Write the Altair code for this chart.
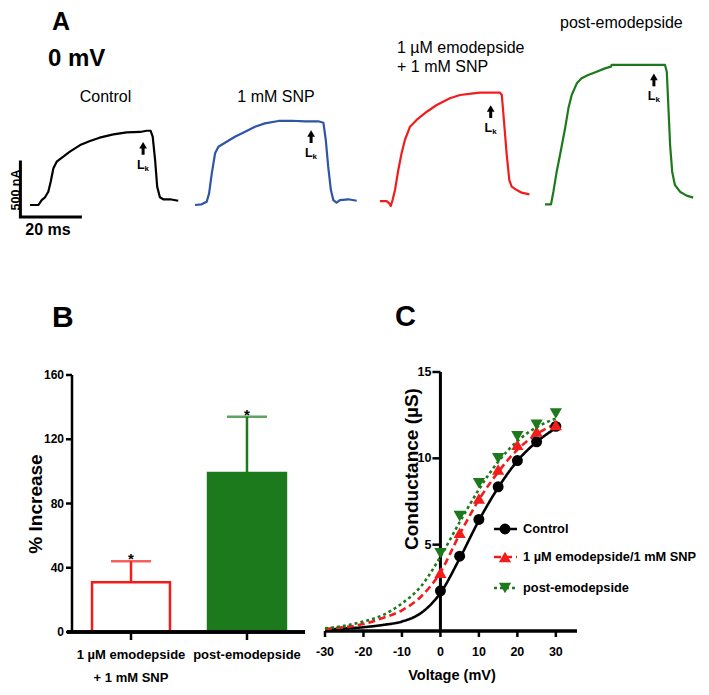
import altair as alt
import pandas as pd

W, H = 693, 678
SANS = "Liberation Sans, Arial, Helvetica, sans-serif"
BLACK = "#000000"
BLUE = "#2f55a6"
RED = "#f21c1c"
GREEN = "#1c7a1c"

# ---------------- Panel A: current traces at 0 mV (time ms, current nA) ----------------
ctrl_t = [0, 2.8, 3.9, 5, 6.1, 6.9, 7.8, 8.9, 11.1, 13.3, 16.7, 20, 23.2, 27.8, 32.2, 36.7,
          38.9, 40.2, 40.9, 41.7, 42.4, 43.3, 44.4, 46.7, 49.4]
ctrl_i = [0, 0, 45, 70, 121, 212, 334, 394, 439, 485, 545, 582, 612, 642, 661, 664,
          675, 675, 621, 409, 166, 70, 52, 52, 39]
snp_t = [0, 2.2, 3.9, 4.7, 5.6, 6.7, 7.8, 10, 13.3, 16.7, 20, 23.3, 27.8, 32.2, 36.7, 41.1,
         42.8, 43.6, 44.4, 45.3, 46.1, 47.2, 48.3, 51.1, 53.9]
snp_i = [0, 6, 30, 106, 288, 470, 530, 566, 621, 666, 712, 742, 764, 766, 761, 761,
         748, 591, 348, 136, 45, 21, 45, 52, 39]
emo_t = [0, 2.2, 3.1, 3.6, 4.2, 5, 6.1, 7.2, 8.3, 10, 12.2, 15.6, 18.9, 23.3, 26.7, 31.1,
         33.3, 40, 40.6, 41.3, 42.2, 43.1, 43.9, 45.6, 47.2, 49.8]
emo_i = [36, 36, 15, -9, 45, 136, 318, 470, 591, 712, 773, 848, 909, 970, 1000, 1015,
         1021, 1021, 1000, 773, 470, 227, 167, 136, 112, 97]
post_t = [0, 2, 2.8, 3.9, 5, 6.7, 7.8, 8.9, 10.6, 12.2, 14.4, 17.2, 20, 22, 22.2, 40,
          40.6, 41.1, 41.7, 42.4, 43.3, 45, 47.2, 49.4]
post_i = [6, 6, 121, 303, 455, 697, 879, 1000, 1106, 1152, 1182, 1212, 1242, 1258, 1273, 1273,
          1212, 909, 545, 303, 182, 121, 85, 67]
lk_t = [37.7, 38.7, 36.9, 36.3]          # time of the Lk arrow in each trace
lk_i = [575, 682, 909, 1197]             # current level of the arrow tip
bar_len_ms = 20
bar_len_na = 500
trace_titles = ["Control", "1 mM SNP", "1 µM emodepside", "+ 1 mM SNP", "post-emodepside"]

# ---------------- Panel B: % increase ----------------
b_groups = ["1 µM emodepside\n+ 1 mM SNP", "post-emodepside"]
b_mean = [31, 99]
b_sem = [13, 35]
b_ticks = [0, 40, 80, 120, 160]

# ---------------- Panel C: conductance vs voltage ----------------
c_v_curve = [-30, -25, -20, -15, -10, -5, 0, 5, 10, 15, 20, 25, 30]
c_fit_ctrl = [0.08, 0.14, 0.22, 0.35, 0.55, 1.05, 2.2, 4.2, 6.4, 8.3, 9.85, 10.95, 11.75]
c_fit_emo = [0.12, 0.22, 0.40, 0.75, 1.2, 2.0, 3.4, 5.6, 7.6, 9.2, 10.5, 11.4, 12.0]
c_fit_post = [0.15, 0.30, 0.55, 0.92, 1.6, 2.6, 4.3, 6.3, 8.2, 9.8, 11.0, 11.8, 12.3]
c_v_pts = [0, 5, 10, 15, 20, 25, 30]
c_pts_ctrl = [2.33, 4.33, 6.46, 8.35, 9.87, 10.96, 11.85]
c_pts_emo = [3.38, 5.69, 7.67, 9.35, 10.79, 11.56, 11.94]
c_pts_post = [4.5, 6.65, 8.56, 10.0, 11.27, 11.94, 12.6]
c_names = ["Control", "1 µM emodepside/1 mM SNP", "post-emodepside"]
c_x_ticks = [-30, -20, -10, 0, 10, 20, 30]
c_y_ticks = [5, 10, 15]

ONE = pd.DataFrame({"o": [0]})


def txt(s, x, y, size, weight="normal", align="left", baseline="alphabetic", angle=0):
    return alt.Chart(ONE).mark_text(fontSize=size, fontWeight=weight, font=SANS, align=align,
                                    baseline=baseline, angle=angle, color=BLACK).encode(
        x=alt.value(x), y=alt.value(y), text=alt.value(s))


def trace_layer(t, cur, color, xr, lkt, lki, scalebar=False):
    xs = alt.Scale(domain=[0, 50], range=xr, nice=False, zero=False)
    ys = alt.Scale(domain=[0, 1000], range=[197, 87], nice=False, zero=False)
    X = alt.X("t:Q", scale=xs, axis=None)
    Y = alt.Y("i:Q", scale=ys, axis=None)
    df = pd.DataFrame({"t": t, "i": cur, "k": list(range(len(t)))})
    parts = [alt.Chart(df).mark_line(color=color, strokeWidth=2.2, strokeJoin="round").encode(
        x=X, y=Y, order="k:Q")]
    lk = pd.DataFrame({"t": [lkt], "i": [lki]})
    base = alt.Chart(lk).encode(x=X, y=Y)
    parts += [
        base.mark_rule(color=BLACK, strokeWidth=3, yOffset=5, y2Offset=13).encode(y2=alt.Y2("i")),
        base.mark_point(shape="triangle-up", filled=True, color=BLACK, size=60, opacity=1, yOffset=3.5),
        base.mark_text(text="L", font=SANS, fontWeight="bold", fontSize=12.5, align="right",
                       baseline="alphabetic", dx=1.5, dy=27, color=BLACK),
        base.mark_text(text="k", font=SANS, fontWeight="bold", fontSize=8, align="left",
                       baseline="alphabetic", dx=1.5, dy=29, color=BLACK),
    ]
    if scalebar:
        t0, i0 = -3.2, -110
        sb = pd.DataFrame({"t": [t0, t0, t0 + bar_len_ms], "i": [i0 + bar_len_na, i0, i0], "k": [0, 1, 2]})
        parts.append(alt.Chart(sb).mark_line(color=BLACK, strokeWidth=3, strokeJoin="miter",
                                             strokeCap="square").encode(x=X, y=Y, order="k:Q"))
    return alt.layer(*parts)


panelA = [
    trace_layer(ctrl_t, ctrl_i, BLACK, [22, 172], lk_t[0], lk_i[0], scalebar=True),
    trace_layer(snp_t, snp_i, BLUE, [187, 337], lk_t[1], lk_i[1]),
    trace_layer(emo_t, emo_i, RED, [372, 522], lk_t[2], lk_i[2]),
    trace_layer(post_t, post_i, GREEN, [537, 687], lk_t[3], lk_i[3]),
]

# ---------------- Panel B ----------------
bdf = pd.DataFrame({
    "g": b_groups, "m": b_mean, "hi": [m + s for m, s in zip(b_mean, b_sem)], "z": 0,
    "l1": [g.split("\n")[0] for g in b_groups],
    "l2": [g.split("\n")[1] if "\n" in g else "" for g in b_groups],
})
xsB = alt.Scale(domain=b_groups, range=[59, 297], paddingInner=0.328, paddingOuter=0.19, align=0.568)
ysB = alt.Scale(domain=[0, 160], range=[624, 367], nice=False, zero=True)
XB = alt.X("g:N", scale=xsB, axis=None, sort=b_groups)


def YB(f):
    return alt.Y(f, scale=ysB, axis=None)


strokeB = alt.Scale(domain=b_groups, range=[RED, GREEN])
fillB = alt.Scale(domain=b_groups, range=["#ffffff", GREEN])
baseB = alt.Chart(bdf)
b_tick_df = pd.DataFrame({"v": b_ticks, "lab": [str(v) for v in b_ticks]})
b_dom_df = pd.DataFrame({"a": [b_ticks[0]], "b": [b_ticks[-1]]})
panelB = alt.layer(
    baseB.mark_bar(strokeWidth=2.5).encode(
        x=XB, y=YB("m:Q"), y2=alt.datum(0),
        fill=alt.Fill("g:N", scale=fillB, legend=None),
        stroke=alt.Stroke("g:N", scale=strokeB, legend=None)),
    baseB.mark_rule(strokeWidth=2.5).encode(
        x=XB, y=YB("m:Q"), y2=alt.Y2("hi"), color=alt.Color("g:N", scale=strokeB, legend=None)),
    baseB.mark_tick(thickness=2.5, size=40).encode(
        x=XB, y=YB("hi:Q"), color=alt.Color("g:N", scale=strokeB, legend=None)),
    baseB.mark_text(text="*", fontSize=15, fontWeight="bold", font=SANS, baseline="alphabetic",
                    dy=3, color=BLACK).encode(x=XB, y=YB("hi:Q")),
    # axes drawn through the same scales
    alt.Chart(b_dom_df).mark_rule(color=BLACK, strokeWidth=2.5).encode(
        x=alt.value(64), y=YB("a:Q"), y2=alt.Y2("b")),
    alt.Chart(b_tick_df).mark_rule(color=BLACK, strokeWidth=2.5).encode(
        x=alt.value(58), x2=alt.value(64), y=YB("v:Q")),
    alt.Chart(b_tick_df).mark_text(font=SANS, fontWeight="bold", fontSize=12, align="right",
                                   baseline="middle", color=BLACK).encode(
        x=alt.value(56), y=YB("v:Q"), text="lab:N"),
    baseB.mark_rule(color=BLACK, strokeWidth=3.5).encode(
        x=alt.value(59), x2=alt.value(297), y=YB("z:Q")),
    baseB.mark_rule(color=BLACK, strokeWidth=2.5, y2Offset=8).encode(
        x=XB, y=YB("z:Q"), y2=alt.Y2("z")),
    baseB.mark_text(font=SANS, fontWeight="bold", fontSize=13, align="center",
                    baseline="middle", dy=23, color=BLACK).encode(x=XB, y=YB("z:Q"), text="l1:N"),
    baseB.mark_text(font=SANS, fontWeight="bold", fontSize=13, align="center",
                    baseline="middle", dy=46, color=BLACK).encode(x=XB, y=YB("z:Q"), text="l2:N"),
)

# ---------------- Panel C ----------------
xsC = alt.Scale(domain=[-30, 35.5], range=[317, 569], nice=False, zero=False)
ysC = alt.Scale(domain=[0, 15], range=[623, 364], nice=False, zero=False)


def XC(f):
    return alt.X(f, scale=xsC, axis=None)


def YC(f):
    return alt.Y(f, scale=ysC, axis=None)


cx_df = pd.DataFrame({"v": c_x_ticks, "z": 0, "lab": [str(v) for v in c_x_ticks]})
cy_df = pd.DataFrame({"v": c_y_ticks, "z": 0, "lab": [str(v) for v in c_y_ticks]})
c_dom_df = pd.DataFrame({"x0": [-30], "x1": [35.5], "y0": [0], "y1": [15], "z": [0]})
c_layers = [
    alt.Chart(c_dom_df).mark_rule(color=BLACK, strokeWidth=3.5).encode(
        x=XC("x0:Q"), x2=alt.X2("x1"), y=YC("z:Q")),
    alt.Chart(cx_df).mark_rule(color=BLACK, strokeWidth=2.5, y2Offset=6).encode(
        x=XC("v:Q"), y=YC("z:Q"), y2=alt.Y2("z")),
    alt.Chart(cx_df).mark_text(font=SANS, fontWeight="bold", fontSize=12.5, align="center",
                               baseline="middle", dy=21, color=BLACK).encode(
        x=XC("v:Q"), y=YC("z:Q"), text="lab:N"),
    alt.Chart(c_dom_df).mark_rule(color=BLACK, strokeWidth=3).encode(
        x=XC("z:Q"), y=YC("y0:Q"), y2=alt.Y2("y1")),
    alt.Chart(cy_df).mark_rule(color=BLACK, strokeWidth=2.5, xOffset=-8).encode(
        x=XC("z:Q"), x2=alt.X2("z"), y=YC("v:Q")),
    alt.Chart(cy_df).mark_text(font=SANS, fontWeight="bold", fontSize=12.5, align="right",
                               baseline="middle", dx=-9, color=BLACK).encode(
        x=XC("z:Q"), y=YC("v:Q"), text="lab:N"),
]

series = [
    (c_fit_ctrl, c_pts_ctrl, BLACK, "circle", [1, 0], 120, 521),
    (c_fit_emo, c_pts_emo, RED, "triangle-up", [7, 4], 150, 549),
    (c_fit_post, c_pts_post, GREEN, "triangle-down", [3, 3], 150, 580),
]
legend_layers = []
point_layers = []
for idx, (fit, pts, col, shp, dash, sz, ly) in enumerate(series):
    cdf = pd.DataFrame({"v": c_v_curve, "g": fit})
    pdf = pd.DataFrame({"v": c_v_pts, "g": pts})
    c_layers.append(alt.Chart(cdf).mark_line(interpolate="monotone", strokeWidth=2.6, color=col,
                                             strokeDash=dash).encode(x=XC("v:Q"), y=YC("g:Q")))
    point_layers.append(alt.Chart(pdf).mark_point(filled=True, shape=shp, size=sz, color=col,
                                                  opacity=1).encode(x=XC("v:Q"), y=YC("g:Q")))
    legend_layers.append(alt.Chart(ONE).mark_rule(color=col, strokeWidth=2.6, strokeDash=dash).encode(
        x=alt.value(486), x2=alt.value(509), y=alt.value(ly)))
    legend_layers.append(alt.Chart(ONE).mark_point(filled=True, shape=shp, size=sz, color=col,
                                                   opacity=1).encode(x=alt.value(497), y=alt.value(ly)))
    legend_layers.append(txt(c_names[idx], 515, ly, 12.8, "bold", baseline="middle"))

panelC = alt.layer(*c_layers, *point_layers)

texts = [
    txt("A", 44, 22, 25, "bold"),
    txt("0 mV", 40, 58, 24, "bold"),
    txt(trace_titles[0], 97.5, 94, 16, align="center"),
    txt(trace_titles[1], 268, 94, 16, align="center"),
    txt(trace_titles[2], 389, 45, 16),
    txt(trace_titles[3], 389, 64, 16),
    txt(trace_titles[4], 552, 20, 16),
    txt("500 nA", 11.5, 182, 12.5, "bold", align="center", baseline="alphabetic", angle=270),
    txt("20 ms", 40, 227, 16, "bold", align="center"),
    txt("B", 44, 319, 30, "bold"),
    txt("C", 387, 318, 29, "bold"),
    txt("% Increase", 28, 496, 19, "bold", align="center", baseline="middle", angle=270),
    txt("Conductance (µS)", 404, 461, 19, "bold", align="center", baseline="middle", angle=270),
    txt("Voltage (mV)", 444, 672, 14.5, "bold", align="center"),
]

chart = alt.layer(*panelA, panelB, panelC, *legend_layers, *texts).resolve_scale(
    x="independent", y="independent"
).properties(
    width=W, height=H, padding=0, autosize=alt.AutoSizeParams(type="none")
).configure_view(stroke=None)

chart.save("out.html", embed_options={"renderer": "svg", "actions": False})
